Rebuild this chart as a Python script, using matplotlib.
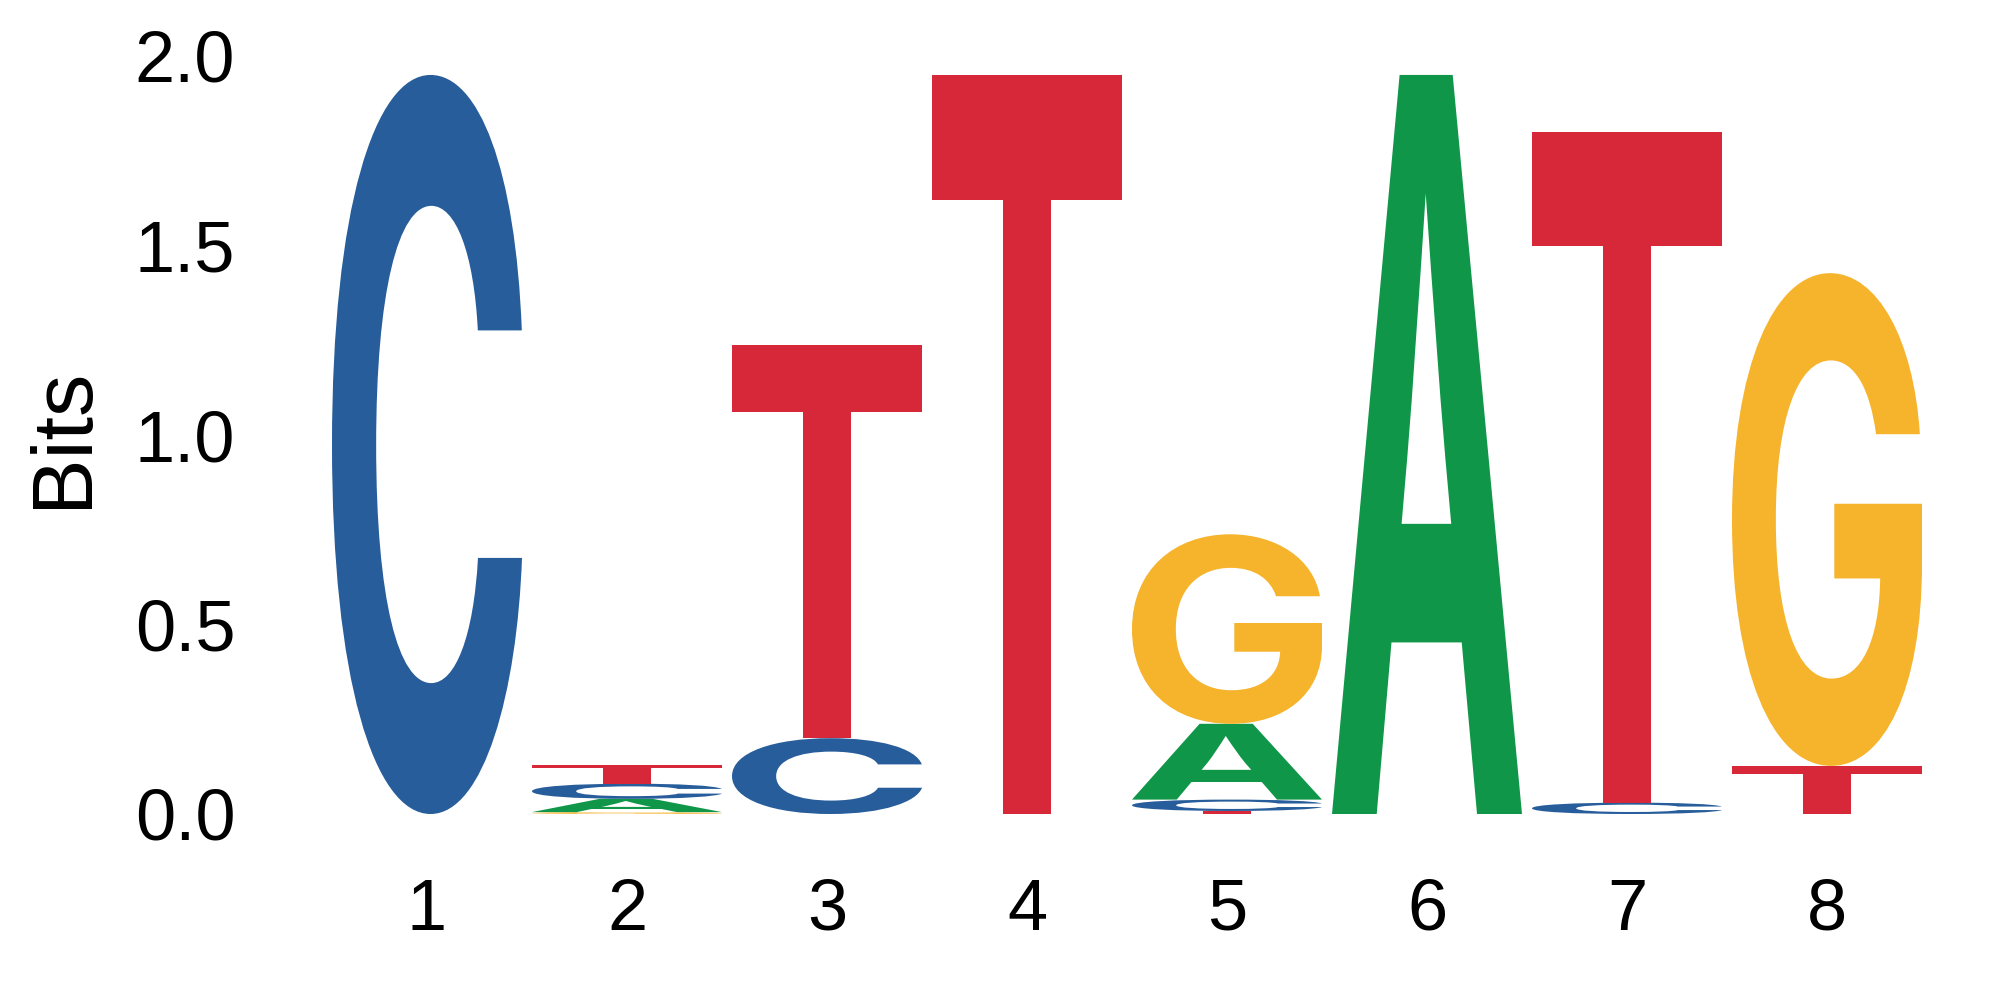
import matplotlib
matplotlib.use("Agg")
import matplotlib.pyplot as plt
from matplotlib.textpath import TextPath
from matplotlib.font_manager import FontProperties
from matplotlib.patches import PathPatch
from matplotlib.transforms import Affine2D

positions = [1, 2, 3, 4, 5, 6, 7, 8]
# information (bits) per base at each position
bits_A = [0.0, 0.035, 0.0, 0.0, 0.20, 1.95, 0.0, 0.0]
bits_C = [1.95, 0.040, 0.20, 0.0, 0.030, 0.0, 0.030, 0.0]
bits_G = [0.0, 0.005, 0.0, 0.0, 0.50, 0.0, 0.0, 1.30]
bits_T = [0.0, 0.050, 1.037, 1.95, 0.008, 0.0, 1.77, 0.127]
y_ticks = [0.0, 0.5, 1.0, 1.5, 2.0]

colors = {"A": "#109648", "C": "#275D9A", "G": "#F6B32C", "T": "#D7283A"}
letter_font = FontProperties(family="Inter", weight="bold")

plt.rcParams["font.family"] = ["Liberation Sans", "DejaVu Sans"]

fig = plt.figure(figsize=(20, 10), dpi=100)
ax = fig.add_axes([0.1635, 0.186, 0.80, 0.758])


def draw_letter(ax, letter, xc, y0, h, width=0.95):
    if h <= 0:
        return
    tp = TextPath((0, 0), letter, size=1, prop=letter_font)
    ext = tp.get_extents()
    tf = (Affine2D()
          .translate(-ext.x0, -ext.y0)
          .scale(width / ext.width, h / ext.height)
          .translate(xc - width / 2, y0))
    ax.add_patch(PathPatch(tf.transform_path(tp), fc=colors[letter], lw=0))


for i, pos in enumerate(positions):
    col = {"A": bits_A[i], "C": bits_C[i], "G": bits_G[i], "T": bits_T[i]}
    y = 0.0
    # smallest letters at the bottom
    for letter, h in sorted(col.items(), key=lambda kv: kv[1]):
        draw_letter(ax, letter, pos, y, h)
        y += h

ax.set_xlim(0.5, 8.5)
ax.set_ylim(0, 2.0)
ax.set_xticks(positions)
ax.set_xticklabels([str(p) for p in positions])
ax.set_yticks(y_ticks)
ax.set_yticklabels([f"{v:.1f}" for v in y_ticks])
ax.tick_params(axis="both", length=0, labelsize=52)
ax.tick_params(axis="x", pad=46)
ax.tick_params(axis="y", pad=66)
for s in ax.spines.values():
    s.set_visible(False)

fig.text(64 / 2000, 1 - 437 / 1000, "Bits", rotation=90, ha="center",
         va="center", fontsize=61)

plt.savefig("out.png")
